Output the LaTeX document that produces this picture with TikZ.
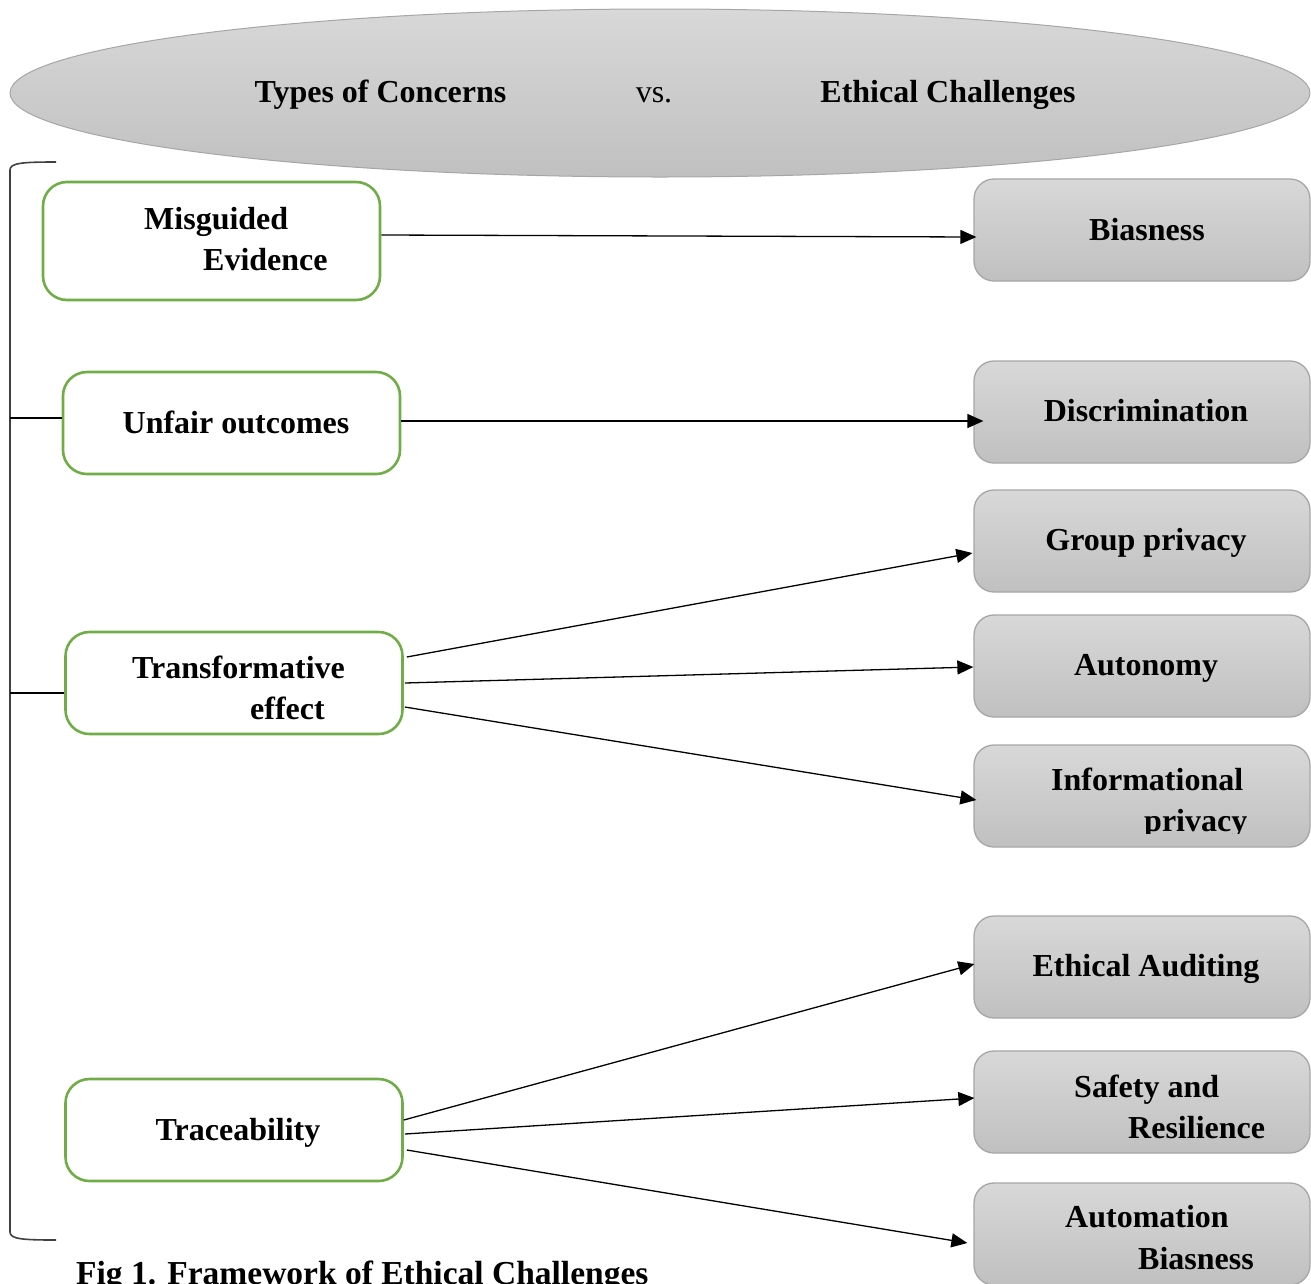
\documentclass[tikz,border=0pt]{standalone}
\usepackage{fontspec}
\setmainfont{Liberation Serif}
\usetikzlibrary{shapes.geometric,arrows.meta,calc}
\definecolor{grborder}{HTML}{70AD47}
\definecolor{gyborder}{HTML}{A6A6A6}
\definecolor{gytop}{HTML}{D8D8D8}
\definecolor{gybot}{HTML}{C0C0C0}
\definecolor{brk}{HTML}{404040}
\tikzset{
  lbox/.style={draw=grborder, line width=2.6pt, rounded corners=24pt, fill=white, minimum width=337pt, minimum height=102pt, inner sep=0pt},
  rbox/.style={draw=gyborder, line width=1.3pt, rounded corners=20pt, top color=gytop, bottom color=gybot, minimum width=336pt, minimum height=102pt, inner sep=0pt},
  txt/.style={font=\fontsize{32pt}{38pt}\selectfont\bfseries, inner sep=0pt, anchor=base},
  txtl/.style={txt, anchor=base west},
  conn/.style={line width=1.3pt, -{Triangle[length=16pt,width=14pt]}},
  tie/.style={line width=1.3pt}
}
\begin{document}
\begin{tikzpicture}[x=1pt,y=-1pt]
\useasboundingbox (0,0) rectangle (1311,1283);
\clip (0,0) rectangle (1311,1283);
% header ellipse
\node[ellipse, draw=gyborder, line width=1pt, top color=gytop, bottom color=gybot, minimum width=1300pt, minimum height=168pt, inner sep=0pt] (hdr) at (660,93) {};
\node[txt] (h1) at (380.5,102) {Types of Concerns};
\node[txt, font=\fontsize{32pt}{38pt}\selectfont] (h2) at (654,102) {vs.};
\node[txt] (h3) at (948,102) {Ethical Challenges};
% bracket
\coordinate (bk) at (10,0);
\draw[brk, line width=1.6pt] (56,162) .. controls (22,162) and (10,163) .. (10,170) -- (10,1232) .. controls (10,1239) and (22,1240) .. (56,1240);
% left boxes
\node[lbox, minimum height=118pt] (l1) at (211.5,241) {};
\node[txtl] (l1a) at (144,229) {Misguided};
\node[txtl] (l1b) at (203,270) {Evidence};
\node[lbox] (l2) at (231.5,423) {};
\node[txt] (l2a) at (236,433) {Unfair outcomes};
\node[lbox] (l3) at (234,683) {};
\node[txtl] (l3a) at (132,678) {Transformative};
\node[txtl] (l3b) at (250,719) {effect};
\node[lbox] (l4) at (234,1130) {};
\node[txt] (l4a) at (238,1140) {Traceability};
% ties
\draw[tie] (l2.west |- 0,418) -- (bk |- 0,418);
\draw[tie] (l3.west |- 0,693) -- (bk |- 0,693);
% right boxes
\node[rbox] (r1) at (1142,230) {};
\node[txt] (r1a) at (1147,240) {Biasness};
\node[rbox] (r2) at (1142,412) {};
\node[txt] (r2a) at (1146,421) {Discrimination};
\node[rbox] (r3) at (1142,541) {};
\node[txt] (r3a) at (1146,550) {Group privacy};
\node[rbox] (r4) at (1142,666) {};
\node[txt] (r4a) at (1146,675) {Autonomy};
\node[rbox] (r5) at (1142,796) {};
\node[txtl] (r5a) at (1051,790) {Informational};
\begin{scope}
\clip (974,745) rectangle (1310,833);
\node[txtl] (r5b) at (1144,831) {privacy};
\end{scope}
\node[rbox] (r6) at (1142,967) {};
\node[txt] (r6a) at (1146,976) {Ethical Auditing};
\node[rbox] (r7) at (1142,1102) {};
\node[txtl] (r7a) at (1074,1097) {Safety and};
\node[txtl] (r7b) at (1128,1138) {Resilience};
\node[rbox] (r8) at (1142,1234) {};
\node[txtl] (r8a) at (1065,1227) {Automation};
\node[txtl] (r8b) at (1138,1269) {Biasness};
% connectors
\draw[conn] ($(l1.east)+(0,-6)$) -- ($(r1.west)+(3,7)$);
\draw[conn] ($(l2.east)+(0,-2)$) -- ($(r2.west)+(10,9)$);
\draw[conn] ($(l3.east)+(3,-26)$) -- ($(r3.west)+(-1,12)$);
\draw[conn] ($(l3.east)+(1,0)$) -- ($(r4.west)+(0,1)$);
\draw[conn] ($(l3.east)+(1,24)$) -- ($(r5.west)+(3,4)$);
\draw[conn] ($(l4.east)+(0,-10)$) -- ($(r6.west)+(1,-3)$);
\draw[conn] ($(l4.east)+(1,4)$) -- ($(r7.west)+(1,-4)$);
\draw[conn] ($(l4.east)+(3,20)$) -- ($(r8.west)+(-6,9)$);
% caption
\node[txtl, font=\fontsize{33.5pt}{40pt}\selectfont\bfseries] (cap) at (76,1284) {Fig 1. Framework of Ethical Challenges};
\end{tikzpicture}
\end{document}
